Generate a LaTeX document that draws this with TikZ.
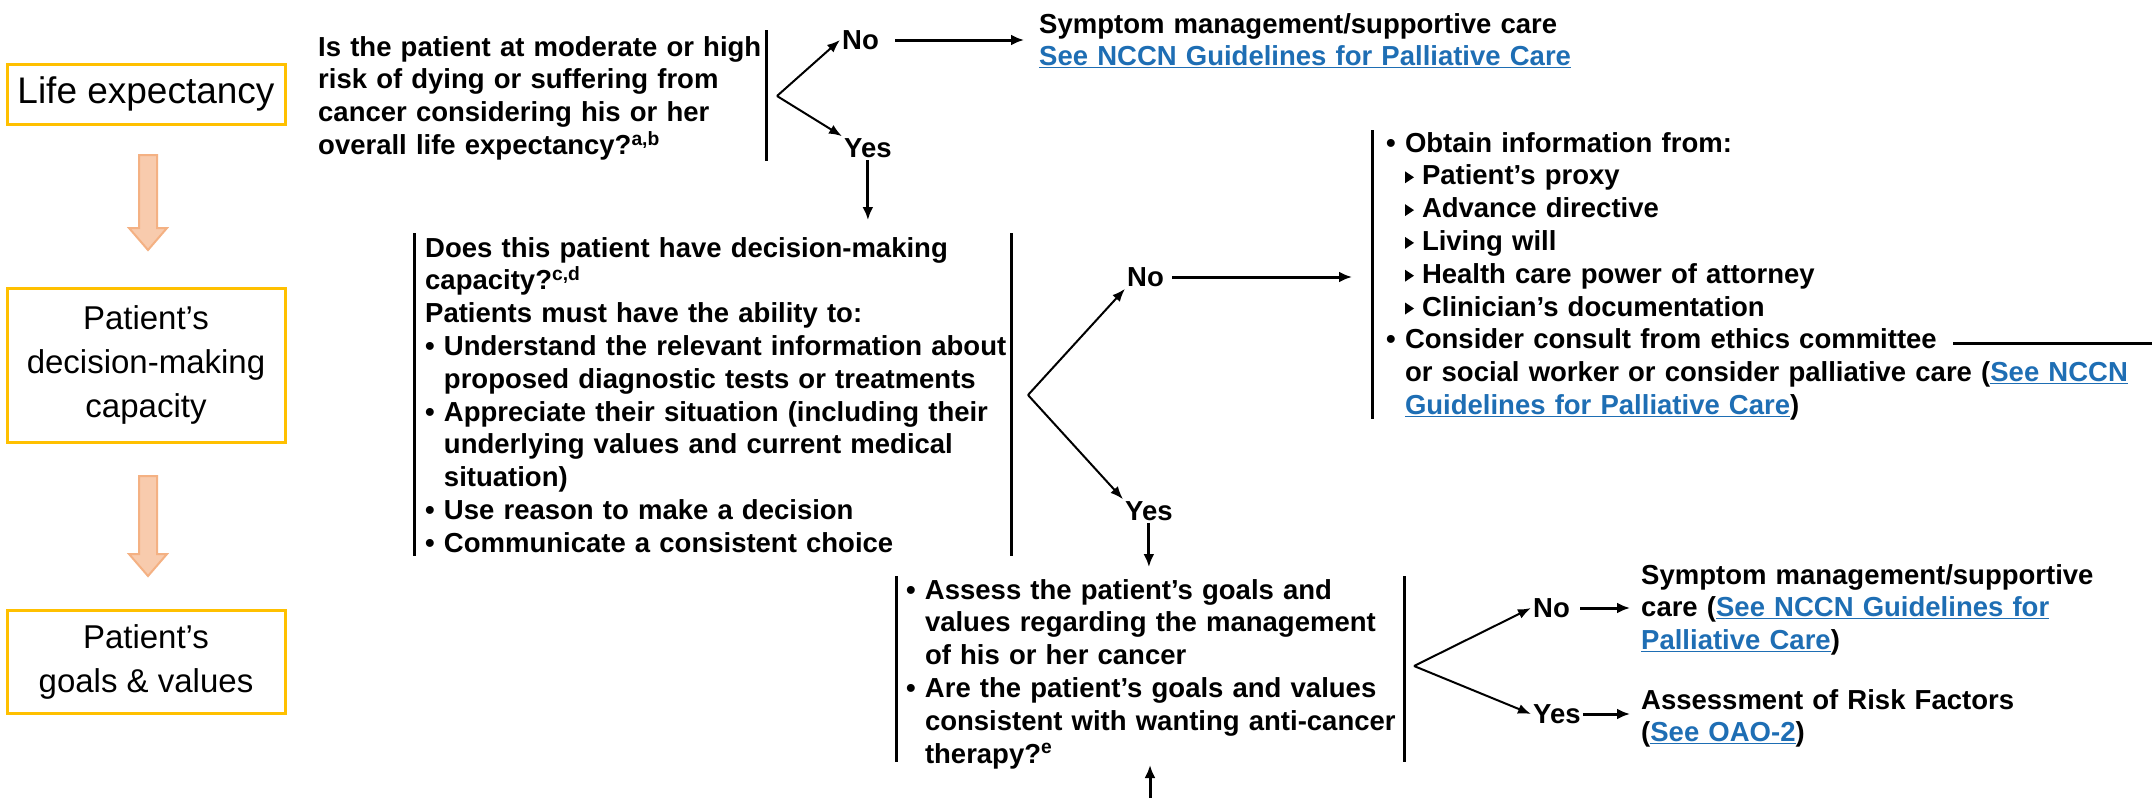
\documentclass[tikz,border=0pt]{standalone}
\usepackage{fontspec}
\setmainfont{Liberation Sans}
\usetikzlibrary{arrows.meta,calc}
\definecolor{linkblue}{RGB}{30,110,180}
\definecolor{boxgold}{RGB}{255,192,0}
\definecolor{arrfill}{RGB}{248,203,173}
\definecolor{arrdraw}{RGB}{244,177,131}
\newcommand{\lnk}[1]{\textcolor{linkblue}{\underline{#1}}}
\newcommand{\tri}{\tikz[baseline=0pt]{\fill (0pt,1.5pt) -- (0pt,13.5pt) -- (9pt,7.5pt) -- cycle;}\hspace{8pt}}
\newcommand{\bul}{\textbullet\ }
\begin{document}
\begin{tikzpicture}[x=1pt,y=-1pt,
  lbox/.style={draw=boxgold, line width=3pt, fill=white, align=center, font=\fontsize{33}{44}\selectfont, inner sep=0pt},
  txt/.style={inner sep=0pt, anchor=base west, align=left, text width=#1, font=\bfseries\fontsize{27.5}{32.8}\selectfont},
  lab/.style={inner sep=2pt, anchor=west, font=\bfseries\fontsize{27.5}{32.8}\selectfont},
  bar/.style={line width=3pt},
  fork/.style={line width=2pt, -{Latex[length=13,width=10]}},
  arr/.style={line width=3pt, -{Latex[length=13,width=11]}},
  barrow/.style={draw=arrdraw, fill=arrfill, line width=2pt}]
\useasboundingbox (0,0) rectangle (2152,798);
\fill[white] (0,0) rectangle (2152,798);

% left column
\node[lbox, minimum width=278, minimum height=60, font=\fontsize{37}{44}\selectfont] (le) at (146,94) {Life expectancy};
\node[lbox, minimum width=278, minimum height=154] (dm) at (146,365) {\rule{0pt}{12pt}Patient’s\\decision-making\\capacity};
\node[lbox, minimum width=278, minimum height=103] (gv) at (146,662) {\rule{0pt}{8pt}Patient’s\\goals \& values};
\draw[barrow] (139,155) -- (157,155) -- (157,228) -- (167,228) -- (148,250) -- (129,228) -- (139,228) -- cycle;
\draw[barrow] (139,476) -- (157,476) -- (157,554) -- (167,554) -- (148,576) -- (129,554) -- (139,554) -- cycle;

% question 1
\node[txt=460] (q1) at (318,56) {Is the patient at moderate or high\\risk of dying or suffering from\\cancer considering his or her\\overall life expectancy?\textsuperscript{a,b}};
\draw[bar] (766,30) -- (766,161);
\coordinate (f1) at (777,96);
\node[lab] (no1) at (840,40) {No};
\node[lab] (yes1) at (842,148) {Yes};
\draw[fork] (f1) -- (no1.west);
\draw[fork] (f1) -- (yes1.north west);
\node[txt=560] (sm1) at (1039,33) {Symptom management/supportive care\\\lnk{See NCCN Guidelines for Palliative Care}};
\draw[arr, shorten <=14pt] (no1.east) -- (no1.east -| 1024,0);

% question 2
\coordinate (q2top) at (867,220);
\draw[arr] (yes1.south) -- (yes1.south |- q2top);
\draw[bar] (414,233) -- (414,556);
\draw[bar] (1011,233) -- (1011,556);
\node[txt=600] (q2) at (425,257) {Does this patient have decision-making\\capacity?\textsuperscript{c,d}\\Patients must have the ability to:\\\bul Understand the relevant information about\\\hphantom{\bul}proposed diagnostic tests or treatments\\\bul Appreciate their situation (including their\\\hphantom{\bul}underlying values and current medical\\\hphantom{\bul}situation)\\\bul Use reason to make a decision\\\bul Communicate a consistent choice};
\coordinate (f2) at (1028,395);
\node[lab] (no2) at (1125,277) {No};
\node[lab] (yes2) at (1123,511) {Yes};
\draw[fork] (f2) -- (no2.south west);
\draw[fork] (f2) -- (yes2.north west);

% info block
\draw[bar] (1372,130) -- (1372,419);
\node[txt=800] (info) at (1386,152) {\bul Obtain information from:\\\hphantom{\bul}\tri Patient’s proxy\\\hphantom{\bul}\tri Advance directive\\\hphantom{\bul}\tri Living will\\\hphantom{\bul}\tri Health care power of attorney\\\hphantom{\bul}\tri Clinician’s documentation\\\bul Consider consult from ethics committee\\\hphantom{\bul}or social worker or consider palliative care (\lnk{See NCCN}\\\hphantom{\bul}\lnk{Guidelines for Palliative Care})};
\draw[arr, shorten <=6pt] (no2.east) -- (1352,0 |- no2.east);
\coordinate (cm) at (1953,343);
\coordinate (edge) at (2152,343);
\draw[bar] (cm) -- (edge);

% question 3
\coordinate (q3top) at (1150,567);
\draw[arr] (yes2.south) -- (yes2.south |- q3top);
\draw[bar] (896,576) -- (896,762);
\draw[bar] (1404,576) -- (1404,762);
\node[txt=500] (q3) at (906,599) {\bul Assess the patient’s goals and\\\hphantom{\bul}values regarding the management\\\hphantom{\bul}of his or her cancer\\\bul Are the patient’s goals and values\\\hphantom{\bul}consistent with wanting anti-cancer\\\hphantom{\bul}therapy?\textsuperscript{e}};
\coordinate (bot) at (1150,798);
\coordinate (q3bot) at (1150,765);
\draw[arr] (bot) -- (q3bot);
\coordinate (f3) at (1414,666);
\node[lab] (no3) at (1531,608) {No};
\node[lab] (yes3) at (1531,714) {Yes};
\draw[fork] (f3) -- (no3.west);
\draw[fork] (f3) -- (yes3.west);
\node[txt=520] (sm3) at (1641,584) {Symptom management/supportive\\care (\lnk{See NCCN Guidelines for}\\\lnk{Palliative Care})};
\node[txt=520] (ar) at (1641,709) {Assessment of Risk Factors\\(\lnk{See OAO-2})};
\draw[arr, shorten <=8pt] (no3.east) -- (1630,0 |- no3.east);
\draw[arr] (yes3.east) -- (1630,0 |- yes3.east);
\end{tikzpicture}
\end{document}
